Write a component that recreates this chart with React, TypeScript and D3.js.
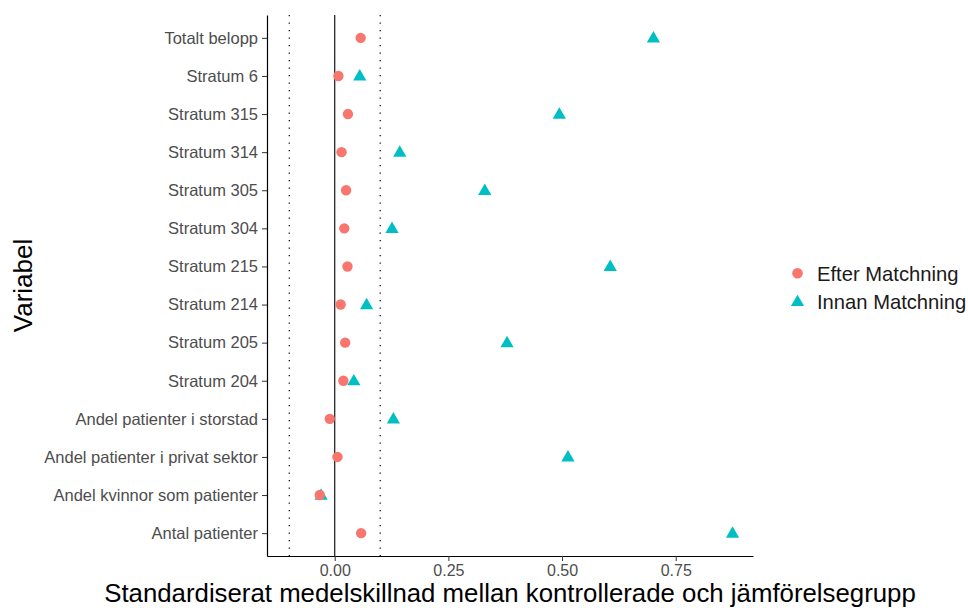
import React, { useEffect, useRef } from 'react';
import * as d3 from 'd3';

// variables, top to bottom as shown
const variables = [
  'Totalt belopp',
  'Stratum 6',
  'Stratum 315',
  'Stratum 314',
  'Stratum 305',
  'Stratum 304',
  'Stratum 215',
  'Stratum 214',
  'Stratum 205',
  'Stratum 204',
  'Andel patienter i storstad',
  'Andel patienter i privat sektor',
  'Andel kvinnor som patienter',
  'Antal patienter',
];

const efterMatchning = [0.057, 0.008, 0.029, 0.015, 0.025, 0.021, 0.028, 0.013, 0.023, 0.019, -0.011, 0.006, -0.033, 0.058];
const innanMatchning = [0.701, 0.055, 0.494, 0.143, 0.330, 0.126, 0.606, 0.070, 0.379, 0.042, 0.129, 0.513, -0.030, 0.875];

const xTicks = [0, 0.25, 0.5, 0.75];
const thresholds = [-0.1, 0.1];
const groups = ['Efter Matchning', 'Innan Matchning'];
const colors = ['#F8766D', '#00BFC4'];

const font = '"Liberation Sans", Arial, Helvetica, sans-serif';

const App = () => {
  const ref = useRef<SVGSVGElement | null>(null);

  useEffect(() => {
    const svg = d3.select(ref.current);
    svg.selectAll('*').remove();

    const width = 968;
    const height = 608;
    const margin = { top: 15, right: 215, bottom: 52, left: 267 };
    const iw = width - margin.left - margin.right;
    const ih = height - margin.top - margin.bottom;

    const x = d3.scaleLinear().domain([-0.149, 0.92]).range([0, iw]);
    const y = d3.scalePoint<string>().domain(variables).range([0, ih]).padding(0.6);

    const g = svg.append('g').attr('transform', `translate(${margin.left},${margin.top})`);

    // reference lines
    g.selectAll('line.thr')
      .data(thresholds)
      .join('line')
      .attr('class', 'thr')
      .attr('x1', d => x(d)).attr('x2', d => x(d))
      .attr('y1', 0).attr('y2', ih)
      .attr('stroke', '#000')
      .attr('stroke-width', 1.2)
      .attr('stroke-dasharray', '1.2 6.3');

    g.append('line')
      .attr('x1', x(0)).attr('x2', x(0))
      .attr('y1', 0).attr('y2', ih)
      .attr('stroke', '#000')
      .attr('stroke-width', 1.1);

    // axes
    const xAxis = g.append('g')
      .attr('transform', `translate(0,${ih})`)
      .call(d3.axisBottom(x).tickValues(xTicks).tickFormat(d3.format('.2f')).tickSize(5).tickSizeOuter(0));
    xAxis.select('.domain').attr('stroke', '#000').attr('stroke-width', 1.2);
    xAxis.selectAll('.tick line').attr('stroke', '#333');
    xAxis.selectAll('.tick text')
      .attr('y', 9)
      .style('fill', '#4d4d4d')
      .style('font-size', '16px')
      .style('font-family', font);

    const yAxis = g.append('g')
      .call(d3.axisLeft(y).tickSize(5).tickSizeOuter(0));
    yAxis.select('.domain').attr('stroke', '#000').attr('stroke-width', 1.2);
    yAxis.selectAll('.tick line').attr('stroke', '#333');
    yAxis.selectAll('.tick text')
      .attr('x', -9)
      .style('fill', '#4d4d4d')
      .style('font-size', '16.5px')
      .style('font-family', font);

    const triangle = d3.symbol().type(d3.symbolTriangle).size(76);

    // before matching (triangles)
    g.selectAll('path.innan')
      .data(innanMatchning)
      .join('path')
      .attr('class', 'innan')
      .attr('d', triangle)
      .attr('transform', (d, i) => `translate(${x(d)},${y(variables[i])! + 0.8})`)
      .attr('fill', colors[1]);

    // after matching (circles)
    g.selectAll('circle.efter')
      .data(efterMatchning)
      .join('circle')
      .attr('class', 'efter')
      .attr('cx', d => x(d))
      .attr('cy', (d, i) => y(variables[i])!)
      .attr('r', 5.2)
      .attr('fill', colors[0]);

    // axis titles
    svg.append('text')
      .attr('x', margin.left + iw / 2)
      .attr('y', 602)
      .attr('text-anchor', 'middle')
      .style('font-size', '25.8px')
      .style('font-family', font)
      .style('fill', '#000')
      .text('Standardiserat medelskillnad mellan kontrollerade och jämförelsegrupp');

    svg.append('text')
      .attr('transform', `translate(32,${margin.top + ih / 2}) rotate(-90)`)
      .attr('text-anchor', 'middle')
      .style('font-size', '26px')
      .style('font-family', font)
      .style('fill', '#000')
      .text('Variabel');

    // legend
    const legend = svg.append('g').attr('transform', 'translate(797.5,273.3)');
    legend.append('circle').attr('cx', 0).attr('cy', 0).attr('r', 5.3).attr('fill', colors[0]);
    legend.append('path').attr('d', triangle).attr('transform', 'translate(0,29)').attr('fill', colors[1]);
    legend.selectAll('text')
      .data(groups)
      .join('text')
      .attr('x', 19.5)
      .attr('y', (d, i) => i * 28.4)
      .attr('dy', '0.36em')
      .style('font-size', '20.2px')
      .style('font-family', font)
      .style('fill', '#1a1a1a')
      .text(d => d);
  }, []);

  return (
    <svg ref={ref} width={968} height={608}
      style={{ position: 'absolute', left: 0, top: 0, background: '#fff' }} />
  );
};

export default App;
